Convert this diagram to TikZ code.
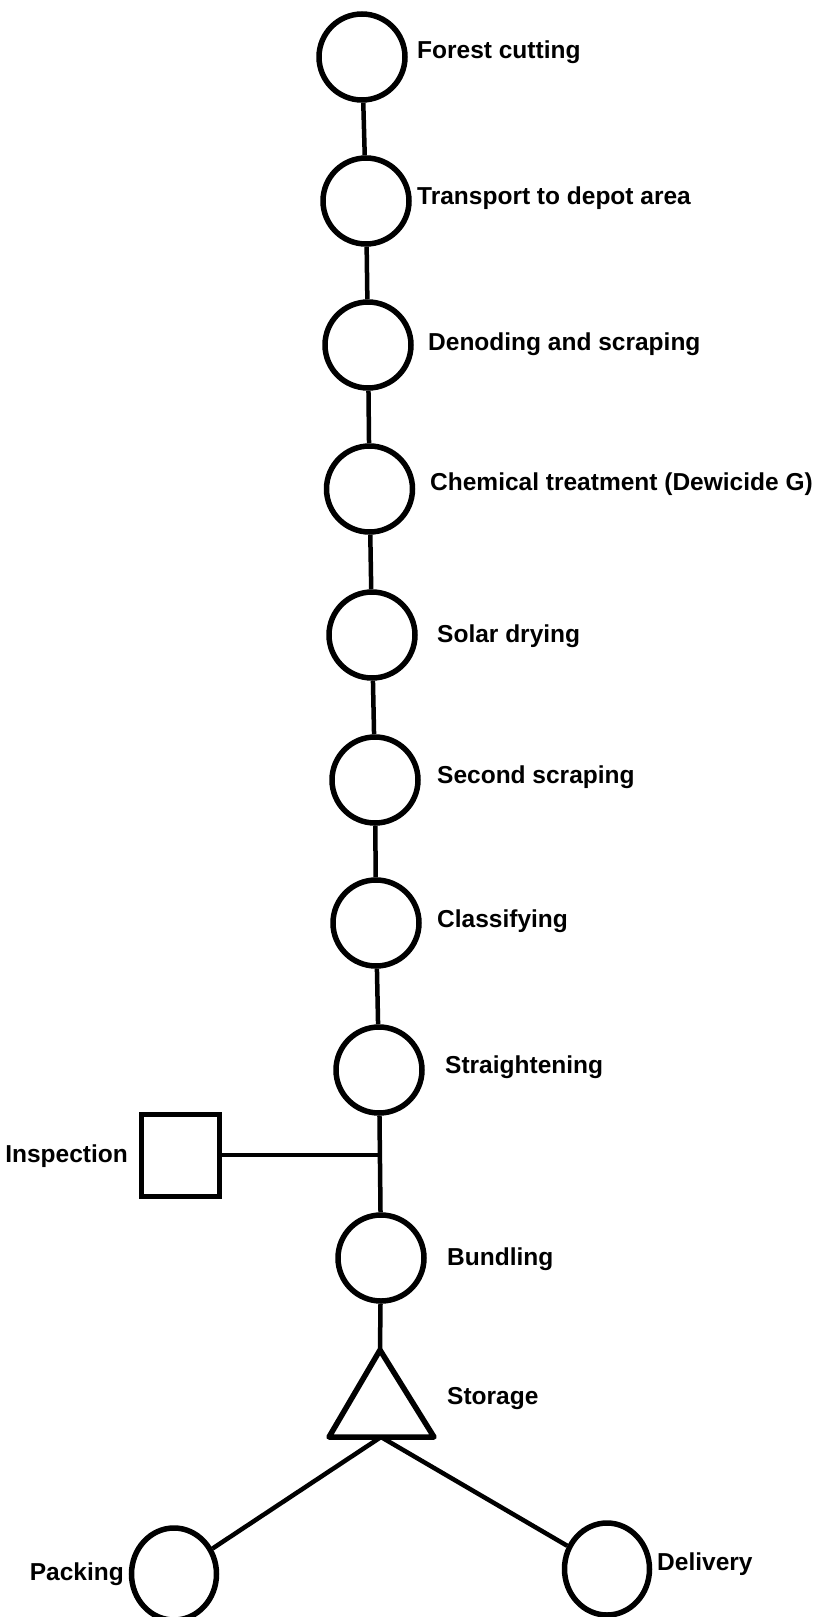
\documentclass[tikz,border=0pt]{standalone}
\usepackage{fontspec}
\setmainfont{Liberation Sans}
\usetikzlibrary{shapes.geometric}
\begin{document}
\begin{tikzpicture}[x=1pt,y=-1pt,
  op/.style={draw,circle,line width=5.5pt,minimum size=86pt,inner sep=0pt},
  opell/.style={draw,ellipse,line width=5.5pt,minimum width=85pt,minimum height=92pt,inner sep=0pt},
  insp/.style={draw,rectangle,line width=5pt,minimum width=78pt,minimum height=82pt,inner sep=0pt},
  conn/.style={line width=4.5pt},
  lbl/.style={inner sep=0pt,font=\fontsize{24.5}{28}\selectfont\bfseries}]
\useasboundingbox (0,0) rectangle (831,1617);
% operations
\node[op] (c1) at (362,57) {};
\node[op] (c2) at (366,201) {};
\node[op] (c3) at (368,345) {};
\node[op] (c4) at (369.5,489) {};
\node[op] (c5) at (372,635) {};
\node[op] (c6) at (375,780) {};
\node[op] (c7) at (376,923) {};
\node[op] (c8) at (379,1070) {};
\node[op] (c9) at (381,1258) {};
\node[insp] (sq) at (180,1155) {};
\coordinate (j) at (379.5,1155);
% storage triangle
\coordinate (stapex) at (380,1350);
\coordinate (stbase) at (381,1437);
\draw[line width=5.5pt,line join=round] (stapex) -- (329,1437) -- (434,1437) -- cycle;
\node[opell] (pk) at (174,1574) {};
\node[opell] (dl) at (607,1569) {};
% connectors
\draw[conn] (c1) -- (c2);
\draw[conn] (c2) -- (c3);
\draw[conn] (c3) -- (c4);
\draw[conn] (c4) -- (c5);
\draw[conn] (c5) -- (c6);
\draw[conn] (c6) -- (c7);
\draw[conn] (c7) -- (c8);
\draw[conn] (c8) -- (c9);
\draw[conn] (sq.east) -- (j);
\draw[conn] (c9) -- (stapex);
\draw[conn] (stbase) -- (pk);
\draw[conn] (stbase) -- (dl);
% labels
\node[lbl,anchor=base west] (t1) at (417,58) {Forest cutting};
\node[lbl,anchor=base west] (t2) at (417,204) {Transport to depot area};
\node[lbl,anchor=base west] (t3) at (428,350) {Denoding and scraping};
\node[lbl,anchor=base west] (t4) at (430,490) {Chemical treatment (Dewicide G)};
\node[lbl,anchor=base west] (t5) at (437,642) {Solar drying};
\node[lbl,anchor=base west] (t6) at (437,783) {Second scraping};
\node[lbl,anchor=base west] (t7) at (437,927) {Classifying};
\node[lbl,anchor=base west] (t8) at (445,1073) {Straightening};
\node[lbl,anchor=base west] (t9) at (447,1265) {Bundling};
\node[lbl,anchor=base west] (tst) at (447,1404) {Storage};
\node[lbl,anchor=base east] (tin) at (128,1162) {Inspection};
\node[lbl,anchor=base east] (tpk) at (124,1580) {Packing};
\node[lbl,anchor=base west] (tdl) at (657,1570) {Delivery};
\end{tikzpicture}
\end{document}
